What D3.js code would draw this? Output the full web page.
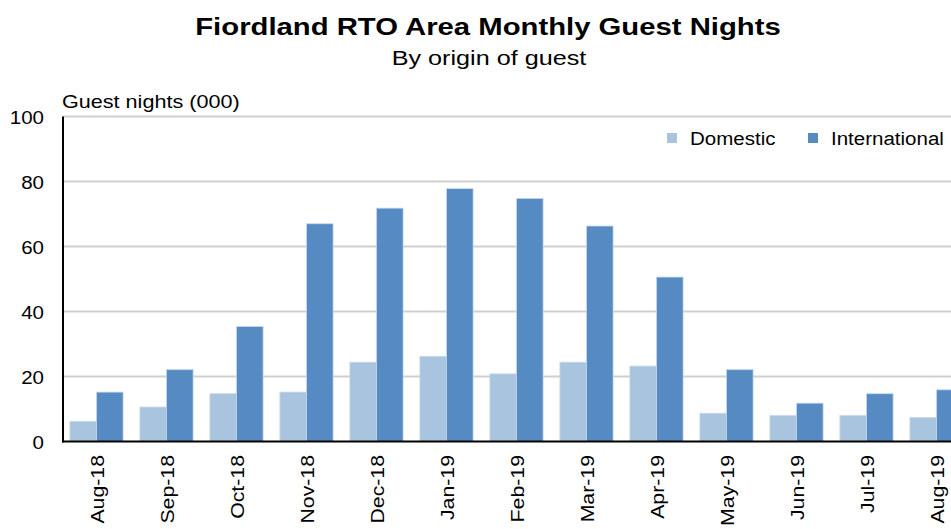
<!DOCTYPE html>
<html lang="en">
<head>
    <meta charset="UTF-8">
    <title>Fiordland RTO Area Monthly Guest Nights</title>
    <script src="https://d3js.org/d3.v7.min.js"></script>
    <style>
        body { margin: 0; background: #fff; }
        svg { display: block; font-family: "Liberation Sans", Arial, sans-serif; }
    </style>
</head>
<body>
<div id="chart"></div>
<script>
// data (thousands of guest nights)
var months = ["Aug-18", "Sep-18", "Oct-18", "Nov-18", "Dec-18", "Jan-19", "Feb-19",
              "Mar-19", "Apr-19", "May-19", "Jun-19", "Jul-19", "Aug-19"];
var domestic = [6.2, 10.6, 14.7, 15.2, 24.4, 26.2, 20.8, 24.4, 23.2, 8.7, 8.0, 8.0, 7.4];
var international = [15.2, 22.1, 35.4, 67.0, 71.8, 77.8, 74.8, 66.3, 50.6, 22.1, 11.8, 14.7, 15.9];
var seriesNames = ["Domestic", "International"];
var seriesColors = ["#a9c4df", "#558bc2"];
var yTicks = [0, 20, 40, 60, 80, 100];

var width = 951, height = 529;
var plotLeft = 63, plotTop = 116.5, plotBottom = 441.5;
// the plot runs past the right edge of the picture, as in the original
var plotRight = plotLeft + 13 * 70;

var svg = d3.select("#chart").append("svg")
    .attr("width", width)
    .attr("height", height);

var x = d3.scaleBand()
    .domain(months)
    .range([plotLeft - 1.5, plotRight - 1.5])
    .paddingInner(0.24)
    .paddingOuter(0.12);

var xs = d3.scaleBand()
    .domain(seriesNames)
    .range([0, x.bandwidth()]);

var y = d3.scaleLinear()
    .domain([0, 100])
    .range([plotBottom, plotTop]);

// the original text is drawn a little wide, so stretch it horizontally
function wideText(sel, px, py, sx) {
    return sel.attr("transform", "translate(" + px + "," + py + ") scale(" + sx + ",1)");
}

// title
wideText(svg.append("text"), 488, 35, 1.22)
    .attr("text-anchor", "middle")
    .style("font-size", "24px").style("font-weight", "bold")
    .text("Fiordland RTO Area Monthly Guest Nights");

wideText(svg.append("text"), 489, 65, 1.2)
    .attr("text-anchor", "middle")
    .style("font-size", "21px")
    .text("By origin  of guest");

wideText(svg.append("text"), 62, 108, 1.2)
    .style("font-size", "18px")
    .text("Guest nights (000)");

// gridlines
svg.selectAll("line.grid")
    .data(yTicks.filter(function(d) { return d > 0; }))
    .enter().append("line")
    .attr("class", "grid")
    .attr("x1", plotLeft).attr("x2", width)
    .attr("y1", function(d) { return y(d); })
    .attr("y2", function(d) { return y(d); })
    .style("stroke", "#d0d0d0")
    .style("stroke-width", 2);

// y tick labels
svg.selectAll("text.ytick")
    .data(yTicks)
    .enter().append("text")
    .attr("class", "ytick")
    .attr("transform", function(d) { return "translate(44," + (y(d) + 7) + ") scale(1.08,1)"; })
    .attr("text-anchor", "end")
    .style("font-size", "19px")
    .text(function(d) { return d; });

// bars
var rows = months.map(function(m, i) {
    return { month: m, values: [domestic[i], international[i]] };
});

var groups = svg.selectAll("g.month")
    .data(rows)
    .enter().append("g")
    .attr("class", "month")
    .attr("transform", function(d) { return "translate(" + x(d.month) + ",0)"; });

groups.selectAll("rect")
    .data(function(d) {
        return d.values.map(function(v, j) { return { name: seriesNames[j], value: v, idx: j }; });
    })
    .enter().append("rect")
    .attr("x", function(d) { return xs(d.name); })
    .attr("y", function(d) { return y(d.value); })
    .attr("width", xs.bandwidth())
    .attr("height", function(d) { return y(0) - y(d.value); })
    .style("fill", function(d) { return seriesColors[d.idx]; })
    .style("stroke", "#c8d8ea")
    .style("stroke-width", 0.8);

// axis lines
svg.append("line")
    .attr("x1", plotLeft).attr("x2", plotLeft)
    .attr("y1", plotTop).attr("y2", plotBottom + 1)
    .style("stroke", "#000").style("stroke-width", 2);

svg.append("line")
    .attr("x1", plotLeft - 1).attr("x2", width)
    .attr("y1", plotBottom).attr("y2", plotBottom)
    .style("stroke", "#000").style("stroke-width", 2);

// x labels, rotated
svg.selectAll("text.xtick")
    .data(months)
    .enter().append("text")
    .attr("class", "xtick")
    .attr("transform", function(d) {
        return "translate(" + (x(d) + x.bandwidth() / 2 + 7) + ",455) rotate(-90) scale(1.12,1)";
    })
    .attr("text-anchor", "end")
    .style("font-size", "19px")
    .text(function(d) { return d; });

// legend
var legend = svg.selectAll("g.legend")
    .data(seriesNames)
    .enter().append("g")
    .attr("class", "legend")
    .attr("transform", function(d, i) { return "translate(" + (667 + i * 141) + ",133)"; });

legend.append("rect")
    .attr("width", 10).attr("height", 10)
    .style("fill", function(d, i) { return seriesColors[i]; });

legend.append("text")
    .attr("transform", "translate(23,12) scale(1.08,1)")
    .style("font-size", "19px")
    .text(function(d) { return d; });
</script>
</body>
</html>
